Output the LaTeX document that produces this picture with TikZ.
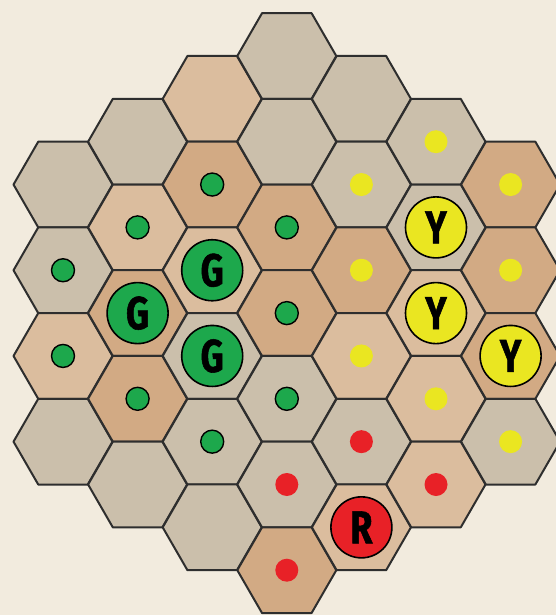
\documentclass[tikz,border=0pt]{standalone}
\usepackage{fontspec}
\usetikzlibrary{shapes.geometric,positioning}

\newfontfamily\tokenfont{Fira Sans}[FakeStretch=0.78, BoldFeatures={FakeBold=1.2}]

\definecolor{paper}{HTML}{F2EBDE}
\definecolor{hexgray}{HTML}{CBBFAB}
\definecolor{hexsand}{HTML}{DBBD9E}
\definecolor{hexclay}{HTML}{D2AA84}
\definecolor{tokgreen}{HTML}{1DA84C}
\definecolor{tokyellow}{HTML}{EAE621}
\definecolor{tokred}{HTML}{E82127}

\begin{document}
\begin{tikzpicture}[x=1pt, y=-1pt,
  hex/.style={regular polygon, regular polygon sides=6, minimum size=99pt, inner sep=0pt,
              draw=black!82, line width=2pt, line join=round},
  dot/.style={circle, minimum size=23pt, inner sep=0pt},
  pawn/.style={circle, draw=black, line width=1.6pt, minimum size=61pt, inner sep=0pt,
               font=\tokenfont\bfseries\fontsize{46}{46}\selectfont},
]

% ====== Parchment ======
\fill[paper] (0,0) rectangle (556,615);
\useasboundingbox (0,0) rectangle (556,615);

% ====== Board (flat-top hexes, column by column) ======
\foreach \c/\fills in {0/{hexgray,hexgray,hexsand,hexgray},
                       1/{hexgray,hexsand,hexclay,hexclay,hexgray},
                       2/{hexsand,hexclay,hexsand,hexgray,hexgray,hexgray},
                       3/{hexgray,hexgray,hexclay,hexclay,hexgray,hexgray,hexclay},
                       4/{hexgray,hexgray,hexclay,hexsand,hexgray,hexsand},
                       5/{hexgray,hexgray,hexsand,hexsand,hexsand},
                       6/{hexclay,hexclay,hexclay,hexgray}} {
  \foreach \fc [count=\r from 0] in \fills {
    \pgfmathsetmacro{\hx}{63+74.6*\c}
    \pgfmathsetmacro{\hy}{56+42.85*abs(\c-3)+85.7*\r}
    \node[hex, fill=\fc] (h-\c-\r) at (\hx,\hy) {};
  }
}

% ====== Green ======
\foreach \c/\r [count=\i] in {0/1,0/2,1/1,1/3,2/1,2/4,3/2,3/3,3/4}
  \node[dot, draw=black, line width=1.4pt, fill=tokgreen] (g\i) at (h-\c-\r) {};
\node[pawn, fill=tokgreen] (G1) at (h-1-2) {G};
\node[pawn, fill=tokgreen] (G2) at (h-2-2) {G};
\node[pawn, fill=tokgreen] (G3) at (h-2-3) {G};

% ====== Yellow ======
\foreach \c/\r [count=\i] in {4/1,4/2,4/3,5/0,5/3,6/0,6/1,6/3}
  \node[dot, fill=tokyellow] (y\i) at (h-\c-\r) {};
\node[pawn, fill=tokyellow] (Y1) at (h-5-1) {Y};
\node[pawn, fill=tokyellow] (Y2) at (h-5-2) {Y};
\node[pawn, fill=tokyellow] (Y3) at (h-6-2) {Y};

% ====== Red ======
\foreach \c/\r [count=\i] in {3/5,3/6,4/4,5/4}
  \node[dot, fill=tokred] (r\i) at (h-\c-\r) {};
\node[pawn, fill=tokred] (R1) at (h-4-5) {R};

\end{tikzpicture}
\end{document}
